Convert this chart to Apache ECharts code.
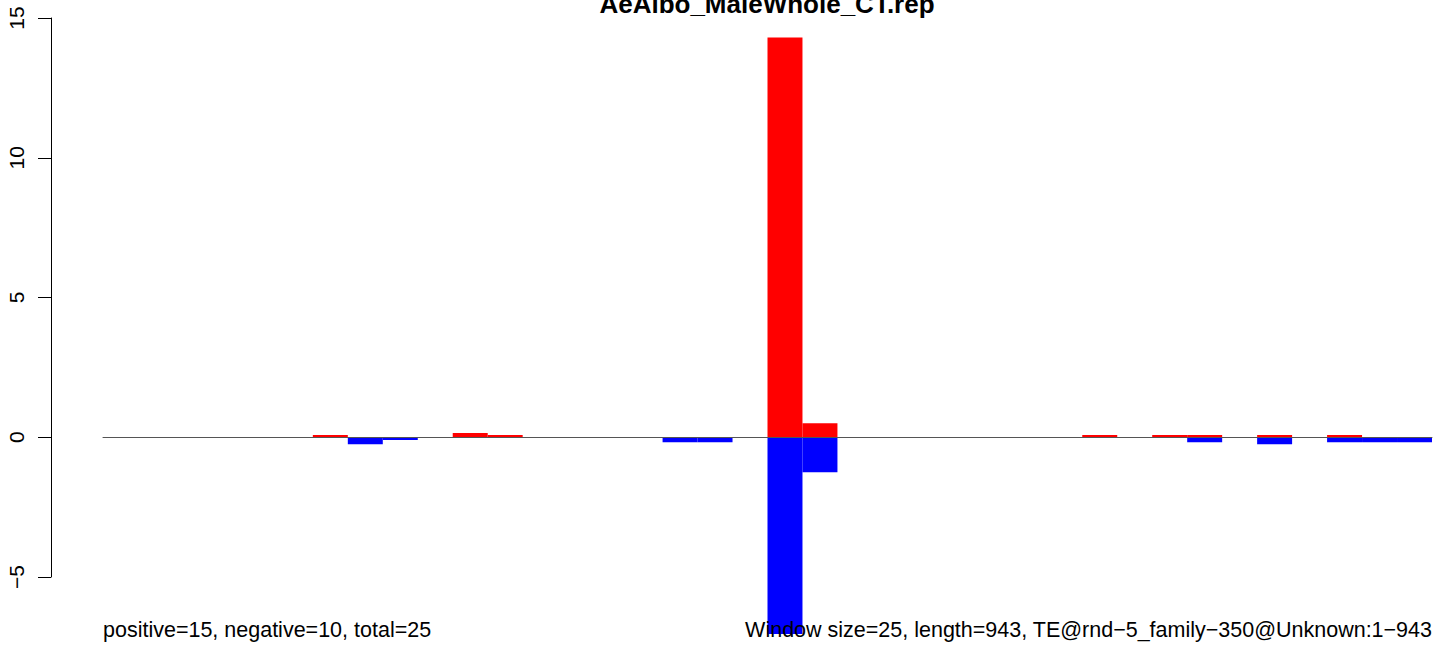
<!DOCTYPE html>
<html>
<head>
<meta charset="utf-8">
<script src="https://cdn.jsdelivr.net/npm/echarts@6/dist/echarts.min.js"></script>
<style>html,body{margin:0;padding:0;background:#fff}#c{width:1444px;height:656px}</style>
</head>
<body>
<div id="c"></div>
<script>
// 38 windows of 25 bp across 943 bp
var categories = [];
for (var i = 0; i < 38; i++) categories.push(String(i * 25 + 1));
var positiveValues = [0,0,0,0,0,0,0.08,0,0,0,0.15,0.08,0,0,0,0,0,0,0,14.3,0.5,0,0,0,0,0,0,0,0.08,0,0.08,0.08,0,0.08,0,0.08,0,0];
var negativeValues = [0,0,0,0,0,0,0,-0.25,-0.1,0,0,0,0,0,0,0,-0.18,-0.18,0,-7.04,-1.25,0,0,0,0,0,0,0,0,0,0,-0.18,0,-0.25,0,-0.18,-0.18,-0.18];
var yTicks = [-5, 0, 5, 10, 15];
var titleText = 'AeAlbo_MaleWhole_CT.rep';
var leftNote = 'positive=15, negative=10, total=25';
var rightNote = 'Window size=25, length=943, TE@rnd\u22125_family\u2212350@Unknown:1\u2212943';

var FONT = '"Liberation Sans", Arial, Helvetica, sans-serif';
var chart = echarts.init(document.getElementById('c'), null, {renderer: 'svg'});
chart.setOption({
  animation: false,
  backgroundColor: '#ffffff',
  grid: {left: 103, right: 12, top: 18, bottom: 79, containLabel: false, outerBoundsMode: 'none'},
  xAxis: {
    type: 'category', data: categories, boundaryGap: true,
    axisLine: {show: true, onZero: true, lineStyle: {color: '#555555', width: 1}},
    axisTick: {show: false}, axisLabel: {show: false}, splitLine: {show: false},
    z: 10
  },
  yAxis: {
    type: 'value', min: yTicks[0], max: yTicks[yTicks.length - 1], interval: 5,
    offset: 52,
    axisLine: {show: true, lineStyle: {color: '#000', width: 1}},
    axisTick: {show: true, length: 13, lineStyle: {color: '#000'}},
    splitLine: {show: false},
    axisLabel: {
      rotate: 90, margin: 24, fontSize: 21, color: '#000', fontFamily: FONT,
      showMinLabel: true, showMaxLabel: true, hideOverlap: false,
      formatter: function (v) { return String(v).replace('-', '\u2212'); }
    }
  },
  series: [
    {type: 'bar', name: 'positive', data: positiveValues, itemStyle: {color: '#ff0000'},
     barGap: '-100%', barCategoryGap: 0, clip: false, z: 2},
    {type: 'bar', name: 'negative', data: negativeValues, itemStyle: {color: '#0000ff'},
     barGap: '-100%', barCategoryGap: 0, clip: false, z: 2}
  ],
  graphic: [
    {type: 'text', z: 100, style: {text: titleText, x: 767, y: 4, textAlign: 'center', textVerticalAlign: 'middle',
      font: 'bold 26px ' + FONT, fill: '#000'}},
    {type: 'text', z: 100, style: {text: leftNote, x: 103, y: 630, textAlign: 'left', textVerticalAlign: 'middle',
      font: '21.5px ' + FONT, fill: '#000'}},
    {type: 'text', z: 100, style: {text: rightNote, x: 1432, y: 630, textAlign: 'right', textVerticalAlign: 'middle',
      font: '21.5px ' + FONT, fill: '#000'}}
  ]
});
</script>
</body>
</html>
